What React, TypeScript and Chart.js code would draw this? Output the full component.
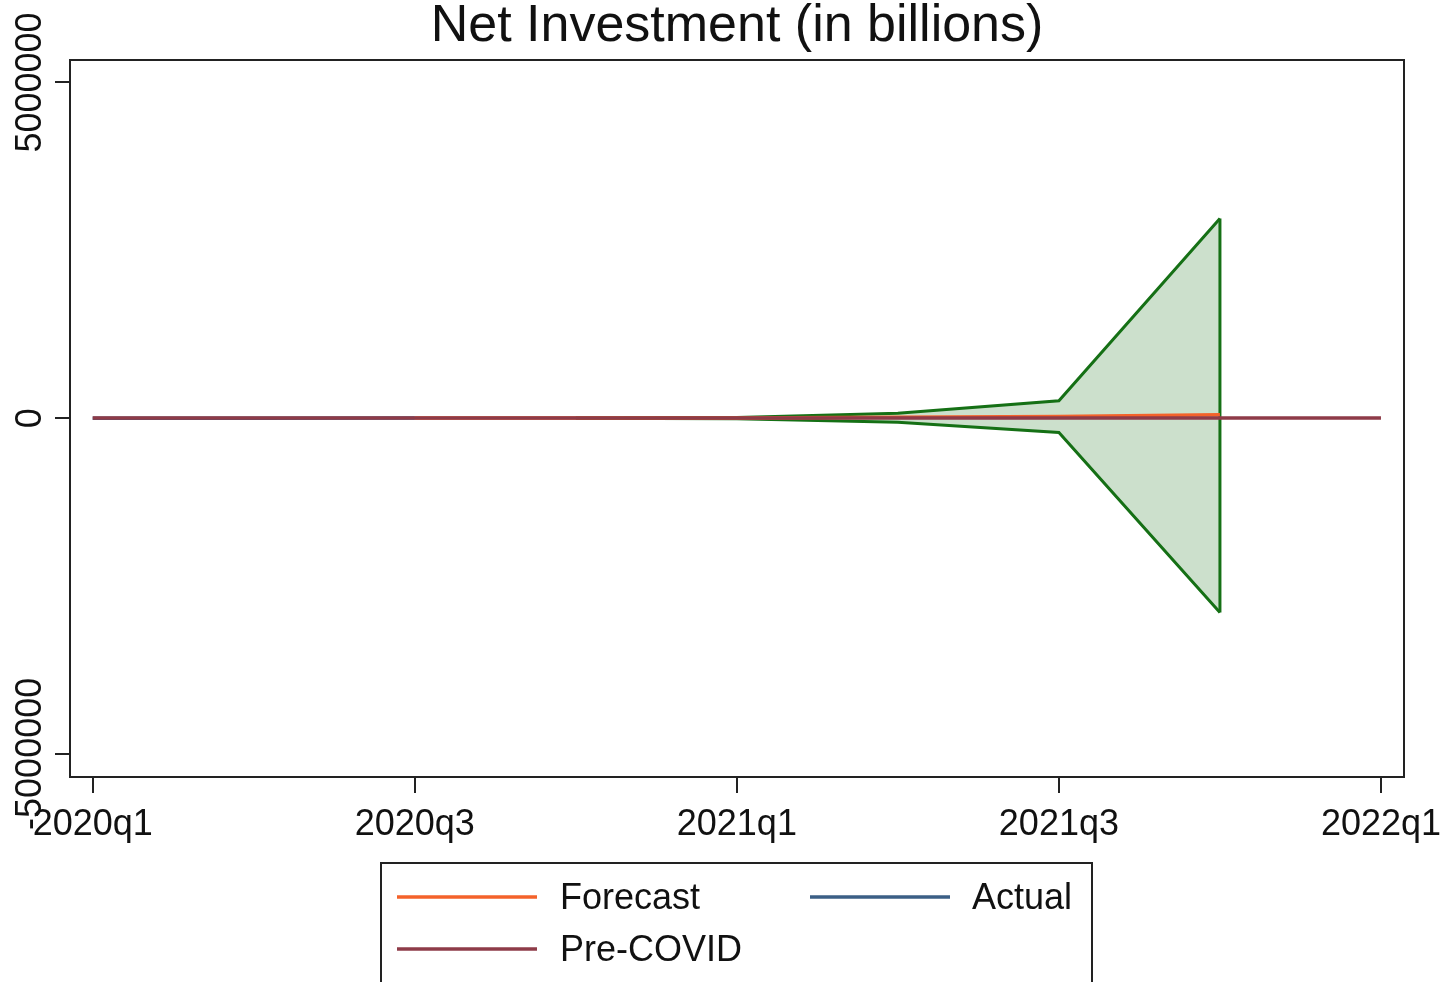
import React, { useEffect, useRef } from 'react';
import { Chart, registerables } from 'chart.js';

Chart.register(...registerables);

// ---- data ----
const quarterLabels = ['2020q1', '2020q2', '2020q3', '2020q4', '2021q1', '2021q2', '2021q3', '2021q4', '2022q1'];
const xTickQuarters = [0, 2, 4, 6, 8];
const yTickValues = [-5000000, 0, 5000000];

const preCovidQ = [0, 1, 2, 3, 4, 5, 6, 7, 8];
const preCovidValues = [600, 610, 620, 630, 640, 650, 660, 670, 680];

const actualQ = [0, 1, 2];
const actualValues = [550, 450, 600];

const forecastQ = [2, 3, 4, 5, 6, 7];
const forecastValues = [600, 1500, 4000, 12000, 25000, 50000];

const bandQ = [3, 4, 5, 6, 7];
const bandLower = [-1000, -8000, -60000, -213000, -2895000];
const bandUpper = [1000, 9000, 74500, 258000, 2975000];

const FONT = '"Liberation Sans", Arial, Helvetica, sans-serif';
const TEXT = '#111111';
const FRAME = '#222222';

const pts = (xs: number[], ys: number[]) => xs.map((x, i) => ({ x, y: ys[i] }));

const legendItems = [
  { label: 'Forecast', color: '#f4622a', col: 0, row: 0 },
  { label: 'Actual', color: '#3b5f86', col: 1, row: 0 },
  { label: 'Pre-COVID', color: '#8e3b48', col: 0, row: 1 },
];

const decorPlugin = {
  id: 'decor',
  afterDraw(chart: any) {
    const ctx = chart.ctx;
    const ca = chart.chartArea;
    const yScale = chart.scales.y;
    ctx.save();
    // frame
    ctx.strokeStyle = FRAME;
    ctx.lineWidth = 2;
    ctx.strokeRect(ca.left, ca.top, ca.right - ca.left, ca.bottom - ca.top);

    // title
    ctx.fillStyle = TEXT;
    ctx.font = `52px ${FONT}`;
    ctx.textAlign = 'center';
    ctx.textBaseline = 'middle';
    ctx.fillText('Net Investment (in billions)', 737, 27);

    // y tick labels (rotated)
    ctx.font = `36px ${FONT}`;
    yTickValues.forEach((v) => {
      const py = yScale.getPixelForValue(v);
      ctx.save();
      ctx.translate(41, py);
      ctx.rotate(-Math.PI / 2);
      ctx.textAlign = 'center';
      ctx.textBaseline = 'alphabetic';
      ctx.fillText(String(v), 0, 0);
      ctx.restore();
    });

    // legend
    ctx.strokeStyle = FRAME;
    ctx.lineWidth = 2;
    ctx.strokeRect(381, 863, 711, 140);
    const colX = [397, 810];
    const textX = [560, 972];
    const rowY = [898, 950];
    ctx.font = `36px ${FONT}`;
    ctx.textAlign = 'left';
    ctx.textBaseline = 'middle';
    legendItems.forEach((it) => {
      const y = rowY[it.row];
      ctx.strokeStyle = it.color;
      ctx.lineWidth = 3.5;
      ctx.beginPath();
      ctx.moveTo(colX[it.col], y - 1);
      ctx.lineTo(colX[it.col] + 140, y - 1);
      ctx.stroke();
      ctx.fillStyle = TEXT;
      ctx.fillText(it.label, textX[it.col], y + 1);
    });
    ctx.restore();
  },
};

export default function App() {
  const ref = useRef<HTMLCanvasElement | null>(null);

  useEffect(() => {
    document.body.style.margin = '0';
    if (!ref.current) return;
    const green = '#157015';
    const chart = new Chart(ref.current, {
      type: 'line',
      data: {
        datasets: [
          {
            label: 'Pre-COVID',
            data: pts(preCovidQ, preCovidValues),
            borderColor: '#8e3b48',
            borderWidth: 3.5,
            pointRadius: 0,
            fill: false,
            order: 1,
          },
          {
            label: 'Actual',
            data: pts(actualQ, actualValues),
            borderColor: '#3b5f86',
            borderWidth: 3.5,
            pointRadius: 0,
            fill: false,
            order: 2,
          },
          {
            label: 'Forecast',
            data: pts(forecastQ, forecastValues),
            borderColor: '#f4622a',
            borderWidth: 3.5,
            pointRadius: 0,
            fill: false,
            order: 3,
          },
          {
            label: 'Lower',
            data: pts(bandQ, bandLower),
            borderColor: green,
            borderWidth: 3,
            pointRadius: 0,
            fill: false,
            order: 4,
          },
          {
            label: 'Upper',
            data: pts(bandQ, bandUpper),
            borderColor: green,
            backgroundColor: 'rgba(21,112,21,0.22)',
            borderWidth: 3,
            pointRadius: 0,
            fill: '-1',
            order: 5,
          },
          {
            label: 'Edge',
            data: [
              { x: bandQ[bandQ.length - 1], y: bandLower[bandLower.length - 1] },
              { x: bandQ[bandQ.length - 1], y: bandUpper[bandUpper.length - 1] },
            ],
            borderColor: green,
            borderWidth: 3,
            pointRadius: 0,
            fill: false,
            order: 6,
          },
        ],
      },
      options: {
        responsive: false,
        animation: false,
        events: [],
        layout: { autoPadding: false, padding: { left: 0, top: 60, right: 43, bottom: 0 } },
        plugins: {
          legend: { display: false },
          title: { display: false },
          tooltip: { enabled: false },
        },
        scales: {
          x: {
            type: 'linear',
            min: -0.141,
            max: 8.143,
            afterFit: (s: any) => {
              s.height = 982 - 777;
              s.paddingLeft = 0;
              s.paddingRight = 0;
            },
            afterBuildTicks: (s: any) => {
              s.ticks = xTickQuarters.map((v) => ({ value: v }));
            },
            grid: { display: true, drawOnChartArea: false, drawTicks: true, tickLength: 16, color: FRAME, lineWidth: 2 },
            border: { display: true, color: FRAME, width: 2 },
            ticks: {
              color: TEXT,
              font: { family: FONT, size: 36 },
              padding: 10,
              maxRotation: 0,
              minRotation: 0,
              autoSkip: false,
              callback: (v: any) => quarterLabels[Math.round(Number(v))] ?? '',
            },
          },
          y: {
            type: 'linear',
            min: -5345000,
            max: 5335000,
            afterFit: (s: any) => {
              s.width = 70;
              s.paddingTop = 0;
              s.paddingBottom = 0;
            },
            afterBuildTicks: (s: any) => {
              s.ticks = yTickValues.map((v) => ({ value: v }));
            },
            grid: { display: true, drawOnChartArea: false, drawTicks: true, tickLength: 15, color: FRAME, lineWidth: 2 },
            border: { display: true, color: FRAME, width: 2 },
            ticks: { color: 'rgba(0,0,0,0)', font: { family: FONT, size: 10 }, padding: 0 },
          },
        },
      },
      plugins: [decorPlugin],
    } as any);
    return () => chart.destroy();
  }, []);

  return (
    <div style={{ width: 1447, height: 982, background: '#ffffff' }}>
      <canvas ref={ref} width={1447} height={982} style={{ display: 'block' }} />
    </div>
  );
}
